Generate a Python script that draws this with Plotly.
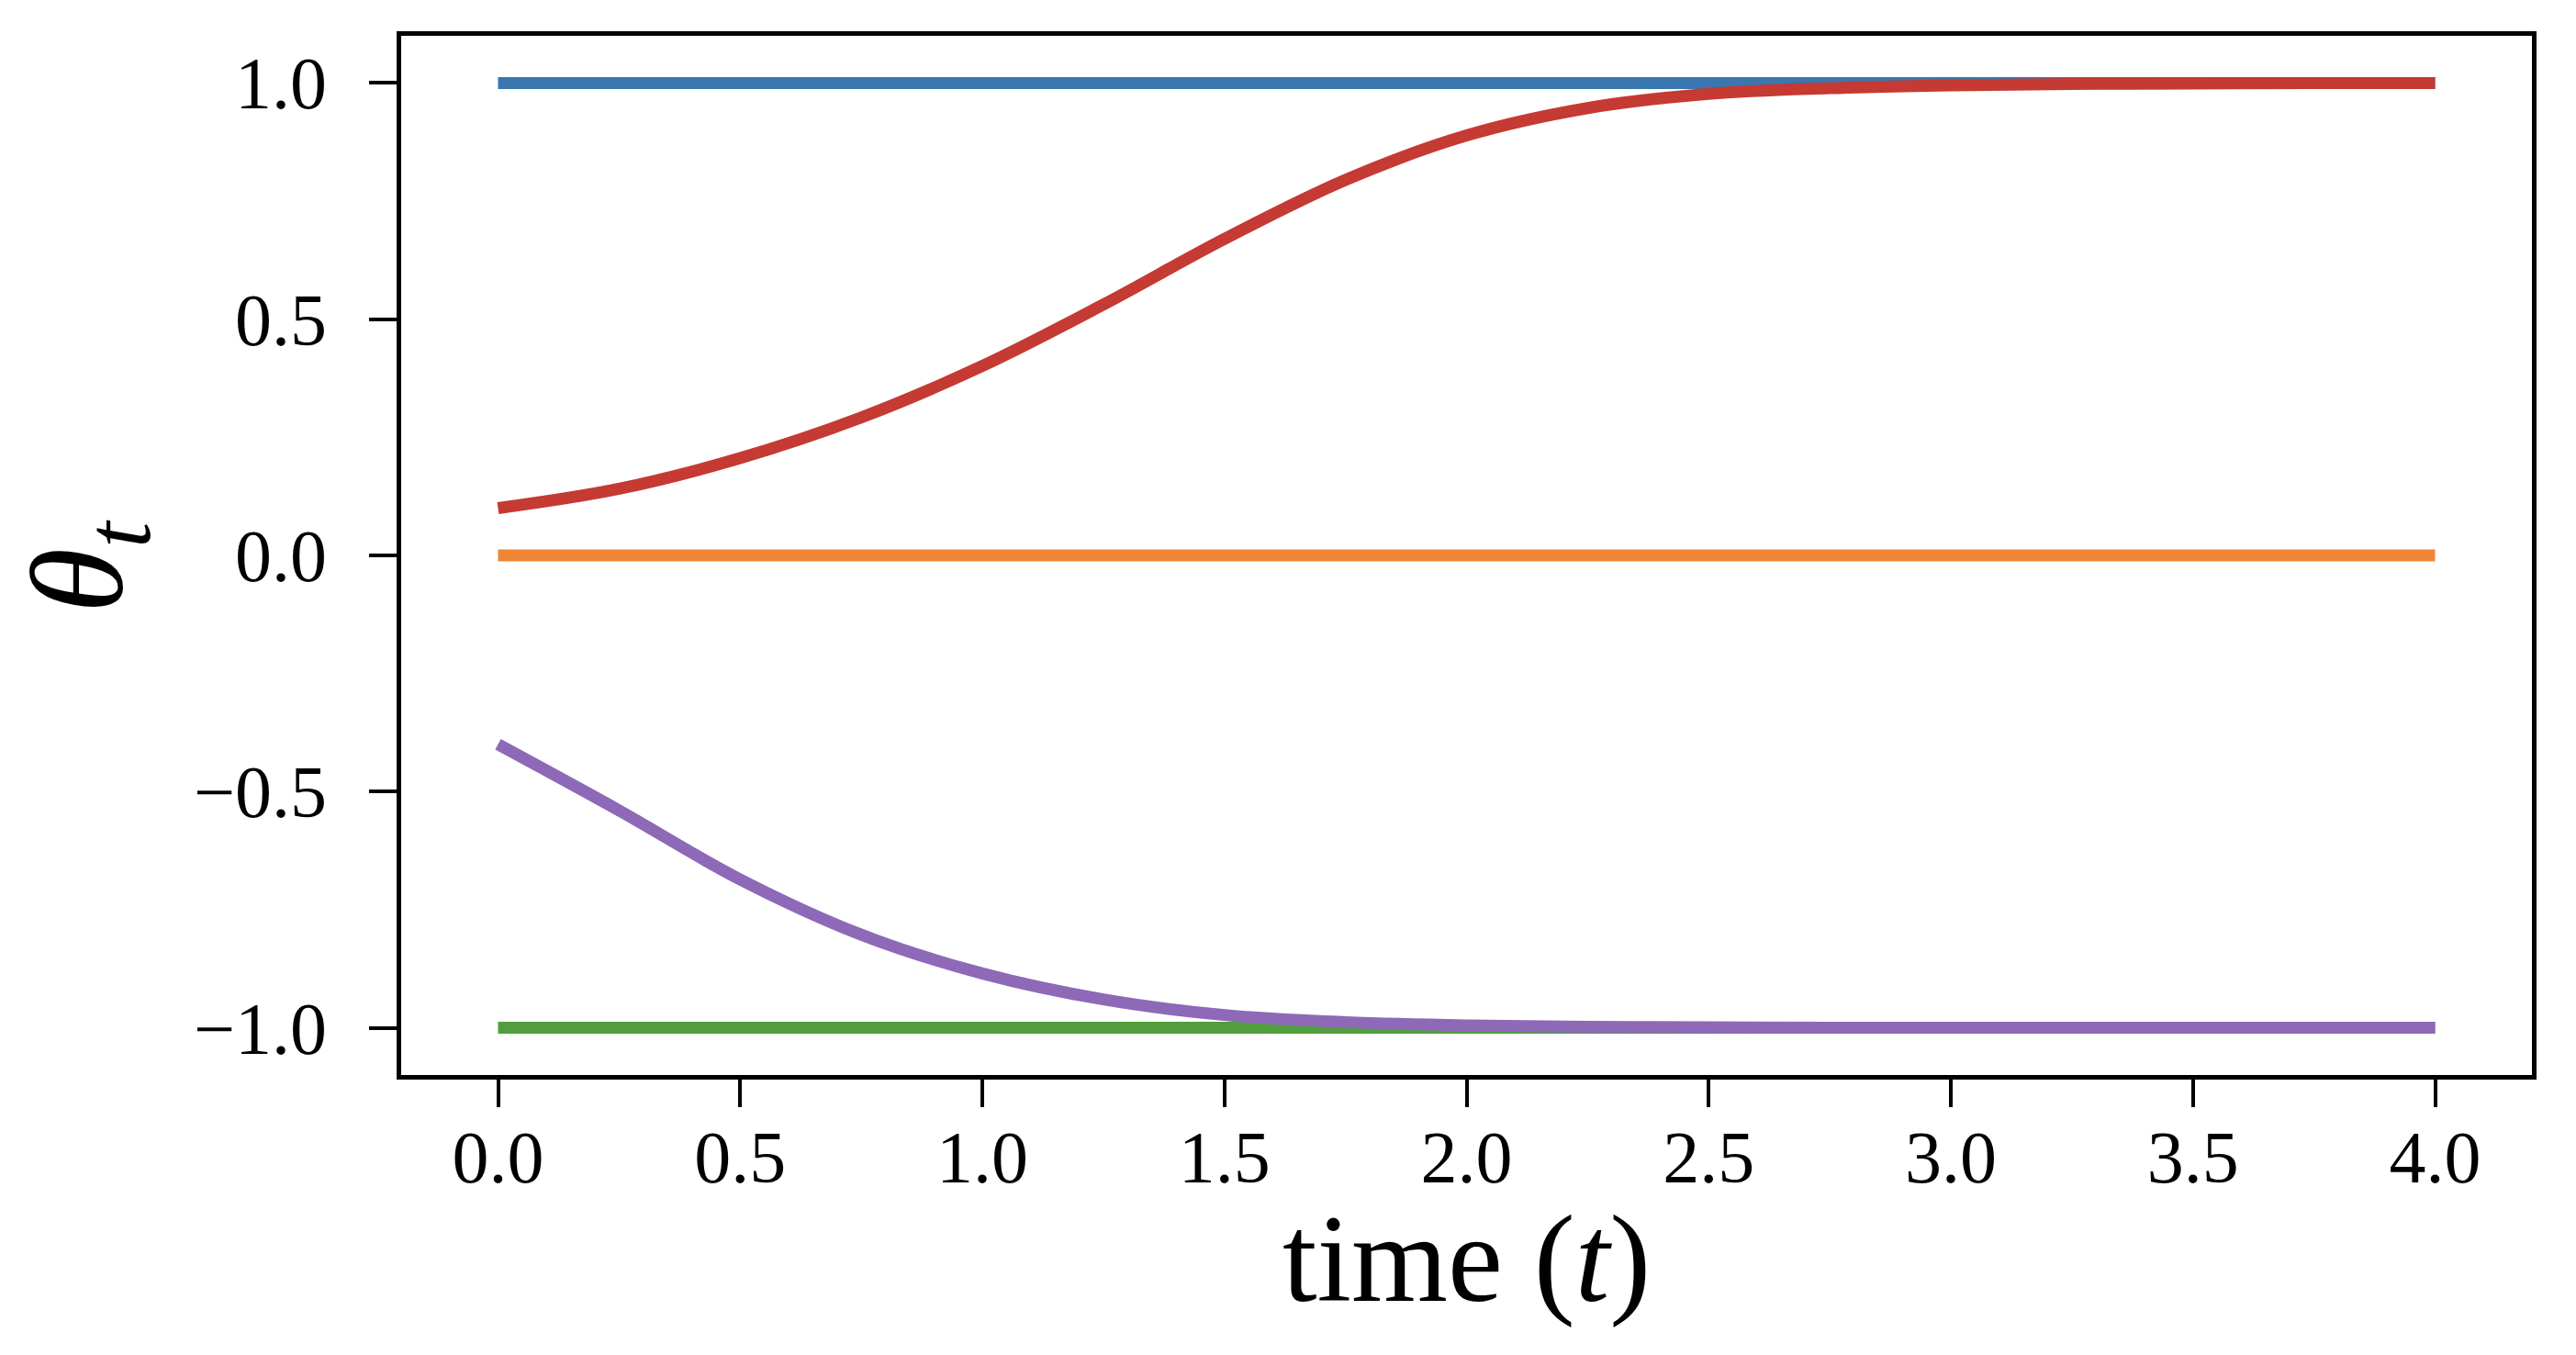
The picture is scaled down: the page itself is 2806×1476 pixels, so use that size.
#!/usr/bin/env python3
# Trajectories of theta over time: two fixed points, two converging runs

import plotly.graph_objects as go

# time grid and the values
t = [0.0, 0.25, 0.5, 0.75, 1.0, 1.25, 1.5, 1.75, 2.0,
     2.25, 2.5, 2.75, 3.0, 3.25, 3.5, 3.75, 4.0]

theta_blue = [1.0] * len(t)
theta_orange = [0.0] * len(t)
theta_green = [-1.0] * len(t)
theta_red = [0.10, 0.141, 0.206, 0.292, 0.401, 0.531, 0.67, 0.795, 0.889,
             0.947, 0.977, 0.989, 0.995, 0.998, 0.999, 1.0, 1.0]
theta_purple = [-0.40, -0.540, -0.686, -0.803, -0.885, -0.940, -0.973, -0.988, -0.995,
                -0.998, -0.999, -1.0, -1.0, -1.0, -1.0, -1.0, -1.0]

x_ticks = [0.0, 0.5, 1.0, 1.5, 2.0, 2.5, 3.0, 3.5, 4.0]
x_ticktext = ['0.0', '0.5', '1.0', '1.5', '2.0', '2.5', '3.0', '3.5', '4.0']
y_ticks = [-1.0, -0.5, 0.0, 0.5, 1.0]
y_ticktext = ['\u22121.0', '\u22120.5', '0.0', '0.5', '1.0']

series = [
    (theta_blue, '#3A76AF'),
    (theta_orange, '#EF8636'),
    (theta_green, '#519E3E'),
    (theta_red, '#C53A32'),
    (theta_purple, '#8D69B8'),
]

FONT = 'Liberation Serif'

fig = go.Figure()
for values, color in series:
    fig.add_trace(go.Scatter(
        x=t, y=values, mode='lines',
        line=dict(color=color, width=13, shape='spline', smoothing=1.0),
        showlegend=False, hoverinfo='skip',
    ))

axis_common = dict(
    showgrid=False, zeroline=False,
    showline=True, linecolor='black', linewidth=5, mirror=True,
    ticks='outside', ticklen=30, tickwidth=4, tickcolor='black',
    tickfont=dict(family=FONT, size=80, color='black'),
)

fig.update_xaxes(range=[-0.2, 4.2], tickvals=x_ticks, ticktext=x_ticktext,
                 ticklabelstandoff=-14, **axis_common)
fig.update_yaxes(range=[-1.1, 1.1], tickvals=y_ticks, ticktext=y_ticktext,
                 ticklabelstandoff=30, **axis_common)

# the page body keeps an 8px margin, so the figure is a bit smaller than the window
fig.update_layout(
    width=2790, height=1460,
    margin=dict(l=429, r=40, t=31, b=297, pad=0),
    plot_bgcolor='white', paper_bgcolor='white',
    annotations=[
        dict(text='time (<i>t</i>)', xref='paper', yref='paper', x=0.5, y=0,
             xanchor='center', yanchor='middle', yshift=-200, showarrow=False,
             font=dict(family=FONT, size=135, color='black')),
        dict(text='<i>\u03b8</i><sub><i>t</i></sub>', xref='paper', yref='paper', x=0, y=0.5,
             xanchor='center', yanchor='middle', xshift=-343, yshift=-12,
             textangle=-90, showarrow=False,
             font=dict(family=FONT, size=145, color='black')),
    ],
)

fig.write_html("out.html")
